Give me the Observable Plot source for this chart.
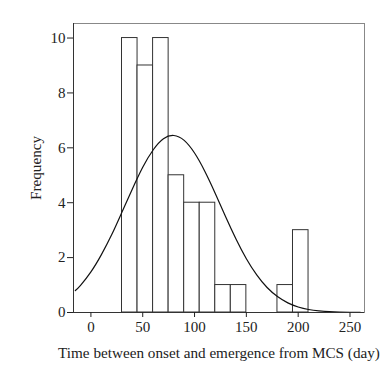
<!DOCTYPE html>
<html><head><meta charset="utf-8">
<script src="https://cdn.jsdelivr.net/npm/d3@7"></script>
<script src="https://cdn.jsdelivr.net/npm/@observablehq/plot@0.6"></script>
<style>body{margin:0;background:#fff}</style>
</head><body><div id="chart"></div>
<script>
const binStart = [30, 45, 60, 75, 90, 105, 120, 135, 180, 195];
const binEnd   = [45, 60, 75, 90, 105, 120, 135, 150, 195, 210];
const counts   = [10, 9, 10, 5, 4, 4, 1, 1, 1, 3];
const curveX = [-15,-10,0,10,20,30,40,50,60,70,80,90,100,110,120,130,140,150,160,170,180,190,200,210,220,230,240,250,260];
const curveY = [0.80,0.99,1.48,2.10,2.83,3.66,4.50,5.29,5.92,6.33,6.45,6.27,5.81,5.14,4.34,3.49,2.68,1.96,1.37,0.91,0.58,0.35,0.20,0.11,0.06,0.03,0.014,0.006,0.002];
const xTicks = [0, 50, 100, 150, 200, 250];
const yTicks = [0, 2, 4, 6, 8, 10];

const bars = binStart.map((s, i) => ({x1: s, x2: binEnd[i], y: counts[i]}));
const curve = curveX.map((x, i) => ({x, y: curveY[i]}));

const chart = Plot.plot({
  width: 391, height: 369,
  marginLeft: 73, marginRight: 27, marginTop: 23, marginBottom: 57,
  style: {fontFamily: "'Liberation Serif', 'DejaVu Serif', serif", fontSize: "15px", color: "#222", background: "#fff"},
  x: {domain: [-16.8, 264]},
  y: {domain: [0, 10.53]},
  marks: [
    Plot.rect(bars, {x1: "x1", x2: "x2", y1: 0, y2: "y", fill: "white", stroke: "#333", strokeWidth: 1}),
    Plot.line(curve, {x: "x", y: "y", curve: "natural", stroke: "#111", strokeWidth: 1.2, clip: true}),
    Plot.frame({stroke: "#888", strokeWidth: 1}),
    Plot.ruleY([0], {stroke: "#333"}),
    Plot.ruleX([-16.8], {stroke: "#333"}),
    Plot.axisX({ticks: xTicks, tickSize: 5, tickPadding: 4, fontSize: 15, label: null}),
    Plot.axisX({ticks: [], tickSize: 0, label: "Time between onset and emergence from MCS (day)", labelAnchor: "center", labelArrow: "none", labelOffset: 45, fontSize: 15.2}),
    Plot.axisY({ticks: yTicks, tickSize: 6, tickPadding: 2, fontSize: 15, label: null}),
    Plot.axisY({ticks: [], tickSize: 0, label: "Frequency", labelAnchor: "center", labelArrow: "none", labelOffset: 43, fontSize: 15.2})
  ]
});
document.getElementById("chart").appendChild(chart);
</script></body></html>
